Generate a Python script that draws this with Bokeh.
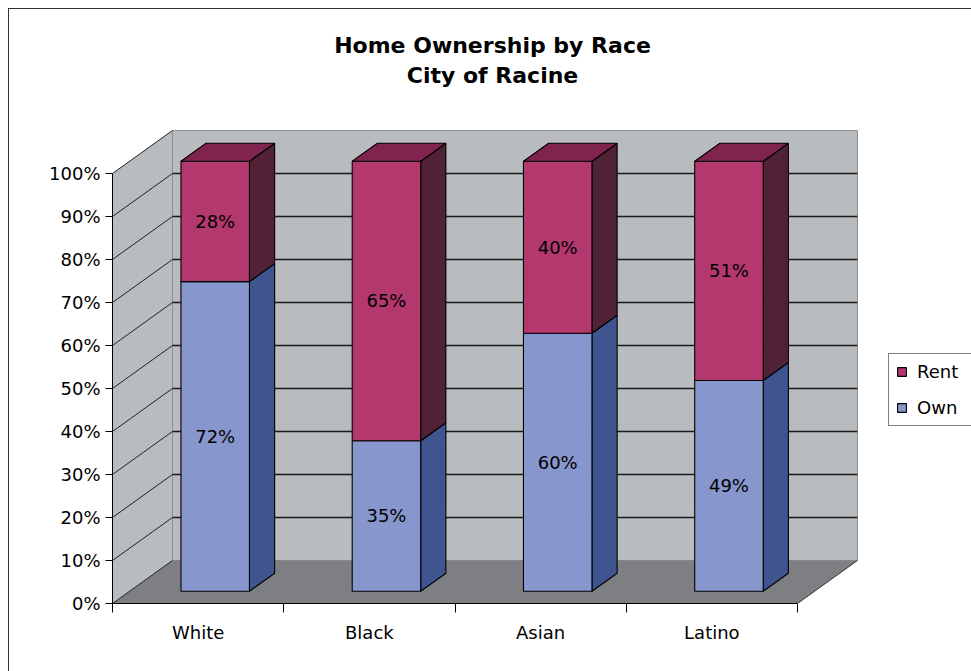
from bokeh.plotting import figure
from bokeh.models import (Range1d, FixedTicker, LinearAxis, Legend, LegendItem,
                          ColumnDataSource, Label, InlineStyleSheet)
from bokeh.core.properties import value
from bokeh.embed import file_html
from bokeh.resources import INLINE

# ---------------- data ----------------
categories = ["White", "Black", "Asian", "Latino"]
own = [72, 35, 60, 49]
rent = [28, 65, 40, 51]
pct_ticks = [0, 10, 20, 30, 40, 50, 60, 70, 80, 90, 100]
title_lines = ["Home Ownership by Race", "City of Racine"]

# ---------------- layout / style ----------------
W, H = 971, 671
FRAME_LEFT = 112          # px, front y-axis position
FRAME_BOTTOM = 603        # px, front x-axis position
PX_PER_CAT = 171.25
PX_PER_PCT = 4.30
DEPTH_X = 0.35            # category units
DEPTH_Y = 10.0            # percent units
BAR_W = 0.40
T_FRONT = 0.285
T_BACK = 0.705
FONT = "DejaVu Sans"

WALL = "#B8BCBE"
FLOOR = "#7D7F82"
OWN_FRONT, OWN_SIDE = "#8796CC", "#3F5590"
RENT_FRONT, RENT_SIDE, RENT_TOP = "#B2386E", "#512236", "#80244F"

ncat = len(categories)
x_end = (W - FRAME_LEFT) / PX_PER_CAT
y_end = FRAME_BOTTOM / PX_PER_PCT

p = figure(width=W, height=H, x_range=Range1d(0, x_end), y_range=Range1d(0, y_end),
           output_backend="svg", toolbar_location=None, x_axis_type=None, y_axis_type=None,
           min_border=0, min_border_left=FRAME_LEFT, min_border_bottom=H - FRAME_BOTTOM)
p.outline_line_color = None
p.background_fill_color = "white"
p.border_fill_color = "white"

# outer chart-area border (left and top edges; right/bottom lie outside the window)
p.stylesheets = [InlineStyleSheet(css=(
    ":host::after { content: ''; position: absolute; left: 8px; top: 8px; "
    "width: 963px; height: 663px; box-sizing: border-box; "
    "border-left: 1px solid #333; border-top: 1px solid #333; pointer-events: none; }"
))]

top_pct = pct_ticks[-1]

# walls and floor
p.patch([0, DEPTH_X, DEPTH_X, 0], [0, DEPTH_Y, top_pct + DEPTH_Y, top_pct],
        fill_color=WALL, line_color=None)
p.quad(left=[DEPTH_X], right=[ncat + DEPTH_X], bottom=[DEPTH_Y], top=[top_pct + DEPTH_Y],
       fill_color=WALL, line_color="#8C9094", line_width=1)
p.patch([0, ncat, ncat + DEPTH_X, DEPTH_X], [0, 0, DEPTH_Y, DEPTH_Y],
        fill_color=FLOOR, line_color=None)
p.segment(x0=[ncat], y0=[0], x1=[ncat + DEPTH_X], y1=[DEPTH_Y], line_color="#333333", line_width=1)

# back-wall gridlines
inner = [t for t in pct_ticks if 0 < t < top_pct]
p.segment(x0=[DEPTH_X] * len(inner), y0=[t + DEPTH_Y for t in inner],
          x1=[ncat + DEPTH_X] * len(inner), y1=[t + DEPTH_Y for t in inner],
          line_color="#1A1A1A", line_width=1.6)
# side-wall gridlines
p.segment(x0=[0] * len(pct_ticks), y0=pct_ticks,
          x1=[DEPTH_X] * len(pct_ticks), y1=[t + DEPTH_Y for t in pct_ticks],
          line_color="#222222", line_width=1)

# bars
dxf, dyf = T_FRONT * DEPTH_X, T_FRONT * DEPTH_Y
dxb, dyb = T_BACK * DEPTH_X, T_BACK * DEPTH_Y


def faces(bottoms, tops):
    left = [i + 0.5 - BAR_W / 2 + dxf for i in range(ncat)]
    right = [l + BAR_W for l in left]
    front = dict(left=left, right=right,
                 bottom=[b + dyf for b in bottoms], top=[t + dyf for t in tops])
    side_xs = [[r, r + dxb - dxf, r + dxb - dxf, r] for r in right]
    side_ys = [[b + dyf, b + dyb, t + dyb, t + dyf] for b, t in zip(bottoms, tops)]
    top_xs = [[l, r, r + dxb - dxf, l + dxb - dxf] for l, r in zip(left, right)]
    top_ys = [[t + dyf, t + dyf, t + dyb, t + dyb] for t in tops]
    return front, (side_xs, side_ys), (top_xs, top_ys)


own_b = [0] * ncat
own_t = own
rent_b = own
rent_t = [o + r for o, r in zip(own, rent)]

of, (osx, osy), _ = faces(own_b, own_t)
rf, (rsx, rsy), (rtx, rty) = faces(rent_b, rent_t)

p.patches(osx, osy, fill_color=OWN_SIDE, line_color="black", line_width=1.1)
own_r = p.quad(source=ColumnDataSource(of), left="left", right="right", bottom="bottom", top="top",
               fill_color=OWN_FRONT, line_color="black", line_width=1.1)
p.patches(rsx, rsy, fill_color=RENT_SIDE, line_color="black", line_width=1.1)
rent_r = p.quad(source=ColumnDataSource(rf), left="left", right="right", bottom="bottom", top="top",
                fill_color=RENT_FRONT, line_color="black", line_width=1.1)
p.patches(rtx, rty, fill_color=RENT_TOP, line_color="black", line_width=1.1)

# data labels
lx = [i + 0.5 + dxf for i in range(ncat)]
p.text(x=lx * 2,
       y=[(b + t) / 2 + dyf for b, t in zip(own_b, own_t)] + [(b + t) / 2 + dyf for b, t in zip(rent_b, rent_t)],
       text=[f"{v}%" for v in own] + [f"{v}%" for v in rent],
       text_align="center", text_baseline="middle", text_font=value(FONT),
       text_font_size="18px", text_color="black")

# axes
yaxis = LinearAxis(ticker=FixedTicker(ticks=pct_ticks, minor_ticks=[]), bounds=(0, top_pct),
                   major_label_overrides={t: f"{t}%" for t in pct_ticks},
                   major_tick_out=7, major_tick_in=0, minor_tick_out=0, minor_tick_in=0,
                   major_label_standoff=5, axis_line_color="black", major_tick_line_color="black",
                   major_label_text_font=FONT, major_label_text_font_size="18px",
                   major_label_text_color="black")
p.add_layout(yaxis, "left")

centers = [i + 0.5 for i in range(ncat)]
xaxis = LinearAxis(ticker=FixedTicker(ticks=centers, minor_ticks=list(range(ncat + 1))),
                   bounds=(0, ncat),
                   major_label_overrides={c: n for c, n in zip(centers, categories)},
                   major_tick_out=0, major_tick_in=0, major_tick_line_color=None,
                   minor_tick_out=9, minor_tick_in=0, minor_tick_line_color="black",
                   major_label_standoff=9, axis_line_color="black",
                   major_label_text_font=FONT, major_label_text_font_size="18px",
                   major_label_text_color="black")
p.add_layout(xaxis, "below")

# title
title_x = (492 - FRAME_LEFT) / PX_PER_CAT
for line, ypx in zip(title_lines, [45, 75]):
    p.add_layout(Label(x=title_x, y=(FRAME_BOTTOM - ypx) / PX_PER_PCT, text=line,
                       text_align="center", text_baseline="middle", text_font=FONT,
                       text_font_style="bold", text_font_size="22px", text_color="black"))

# legend
legend = Legend(items=[LegendItem(label="Rent", renderers=[rent_r]),
                       LegendItem(label="Own", renderers=[own_r])],
                location=(888 - FRAME_LEFT, FRAME_BOTTOM - 426),
                border_line_color="black", border_line_width=1,
                background_fill_color="white", background_fill_alpha=1,
                label_text_font=FONT, label_text_font_size="18px", label_text_color="black",
                glyph_width=11, glyph_height=11, label_height=18, label_width=60,
                spacing=15, padding=7, label_standoff=10, margin=0)
p.add_layout(legend)

open("out.html", "w").write(file_html(p, INLINE))
